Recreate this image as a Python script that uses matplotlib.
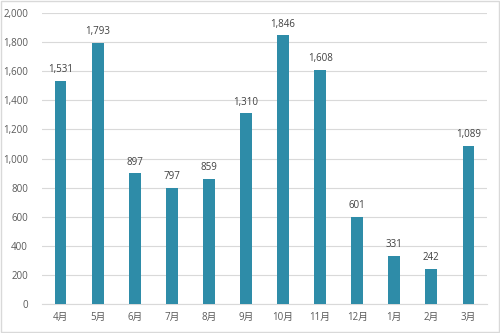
import matplotlib.pyplot as plt
from matplotlib.ticker import FuncFormatter

plt.rcParams['font.family'] = ['Open Sans', 'Noto Sans CJK JP', 'DejaVu Sans']

months = ['4月', '5月', '6月', '7月', '8月', '9月', '10月', '11月', '12月', '1月', '2月', '3月']
counts = [1531, 1793, 897, 797, 859, 1310, 1846, 1608, 601, 331, 242, 1089]

fig = plt.figure(figsize=(5.0, 3.33), dpi=100)
ax = fig.add_axes([0.084, 0.087, 0.89, 0.874])

x = range(len(months))
bars = ax.bar(x, counts, width=0.32, color='#2E8CA8', zorder=3)
for xi, v in zip(x, counts):
    ax.text(xi, v + 40, f'{v:,}', ha='center', va='bottom', fontsize=7, color='#404040')

ax.set_ylim(0, 2000)
ax.set_xlim(-0.5, len(months) - 0.5)
ax.set_yticks(range(0, 2001, 200))
ax.yaxis.set_major_formatter(FuncFormatter(lambda v, p: f'{int(v):,}'))
ax.set_xticks(list(x))
ax.set_xticklabels(months)
ax.tick_params(axis='both', length=0, labelsize=7, colors='#595959')
ax.tick_params(axis='y', pad=10)
ax.tick_params(axis='x', pad=6)
ax.grid(axis='y', color='#D9D9D9', linewidth=0.8, zorder=0)
for side in ['top', 'right', 'left']:
    ax.spines[side].set_visible(False)
ax.spines['bottom'].set_color('#D9D9D9')

fig.patches.append(plt.Rectangle((0.002, 0.003), 0.996, 0.994, transform=fig.transFigure,
                                 fill=False, edgecolor='#D9D9D9', linewidth=1))

fig.savefig('out.png', dpi=100)
